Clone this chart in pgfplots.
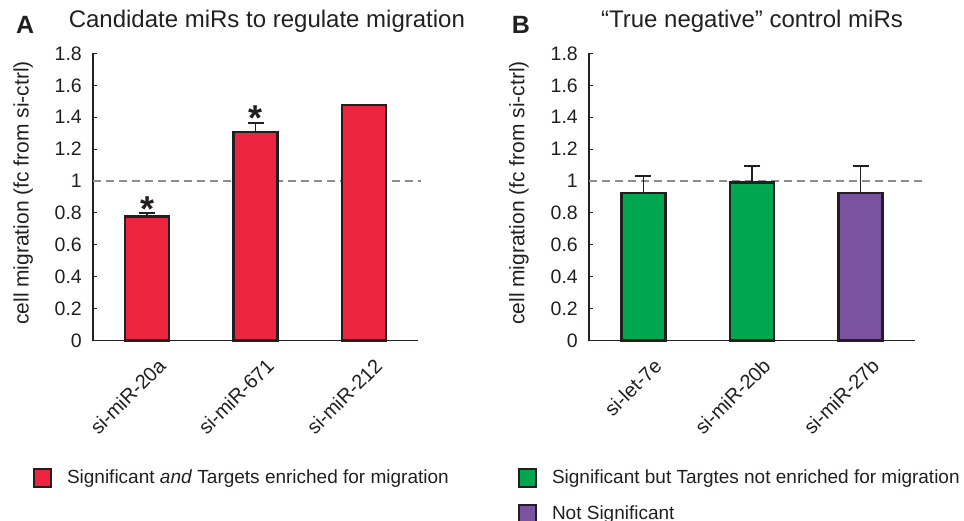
\documentclass[border=0pt]{standalone}
\usepackage{pgfplots}
\pgfplotsset{compat=1.18}
\usepackage{fontspec}
\setmainfont{Liberation Sans}
\definecolor{barred}{RGB}{236,38,64}
\definecolor{bargreen}{RGB}{0,166,80}
\definecolor{barpurple}{RGB}{122,82,160}
\definecolor{edge}{RGB}{35,31,32}
\definecolor{dashgray}{RGB}{140,140,140}

\pgfplotsset{
  mystyle/.style={
    scale only axis, width=325pt, height=287pt,
    ymin=0, ymax=1.8, xmin=-0.5, xmax=2.5,
    axis x line*=bottom, axis y line*=left,
    axis line style={line width=1.3pt, draw=edge, -},
    ytick={0,0.2,0.4,0.6,0.8,1,1.2,1.4,1.6,1.8},
    /pgf/number format/assume math mode=true,
    /pgf/number format/fixed,
    ytick style={line width=1pt, draw=edge},
    tick align=inside, major tick length=4pt,
    xtick={0,1,2},
    xtick style={draw=none},
    yticklabel style={font=\fontsize{19.5}{22}\selectfont, inner sep=0pt, xshift=-11pt, text=edge},
    xticklabel style={font=\fontsize{20}{22}\selectfont, text=edge, inner sep=0pt, rotate=45, anchor=east, xshift=-2pt, yshift=-23pt},
    ylabel={cell migration (fc from si-ctrl)},
    ylabel style={font=\fontsize{21}{24}\selectfont, text=edge, at={(axis description cs:-0.215,0.514)}, anchor=center},
    title style={font=\fontsize{24}{28}\selectfont, text=edge, anchor=base},
    clip=false,
    ybar, bar width=44pt,
    error bars/y dir=plus, error bars/y explicit,
    error bars/error bar style={line width=1.6pt, draw=edge},
    error bars/error mark options={rotate=90, mark size=8pt, line width=1.6pt, draw=edge},
    legend image code/.code={\draw[#1, line width=2pt, draw=edge] (0pt,-9pt) rectangle (17pt,9pt); \path[draw=none, fill=none] (0pt,0pt) -- (33pt,0pt);},
    legend cell align=left,
    legend style={draw=none, fill=none, inner sep=0pt, outer sep=0pt, column sep=0pt, row sep=16pt,
      font=\fontsize{19}{22}\selectfont, text=edge, nodes={inner sep=0pt}, anchor=north west},
  }
}

\begin{document}
\begin{tikzpicture}
\begin{axis}[mystyle, at={(93pt,-340.5pt)}, anchor=south west,
  xticklabels={si-miR-20a, si-miR-671, si-miR-212},
  title={Candidate miRs to regulate migration},
  title style={at={(axis description cs:0.535,1.068)}},
  legend style={at={(axis description cs:-0.1846,-0.4425)}}]
\addplot[forget plot, sharp plot, dashed, dash pattern=on 8pt off 5pt, line width=2.2pt, draw=dashgray, error bars/y dir=none] coordinates {(-0.5,1) (2.53,1)};
\addplot[fill=barred, draw=edge, line width=2.4pt, bar shift=0pt]
  table[x=x, y=y, y error plus=e] {
x y e
0 0.778 0.022
1 1.309 0.055
2 1.478 0
};
\addlegendentry{Significant \textit{and} Targets enriched for migration}
\node[anchor=base, font=\bfseries\fontsize{36}{36}\selectfont, text=edge, inner sep=0pt] at (axis cs:0,0.747) {*};
\node[anchor=base, font=\bfseries\fontsize{36}{36}\selectfont, text=edge, inner sep=0pt] at (axis cs:1,1.317) {*};
\node[anchor=base, font=\bfseries\fontsize{25}{28}\selectfont, text=edge] at (axis description cs:-0.209,1.068) {A};
\end{axis}

\begin{axis}[mystyle, at={(589pt,-340.5pt)}, anchor=south west, width=326pt,
  xticklabels={si-let-7e, si-miR-20b, si-miR-27b},
  title={“True negative” control miRs},
  title style={at={(axis description cs:0.5,1.068)}},
  legend style={at={(axis description cs:-0.2178,-0.4425)}}]
\addplot[forget plot, sharp plot, dashed, dash pattern=on 8pt off 5pt, line width=2.2pt, draw=dashgray, error bars/y dir=none] coordinates {(-0.5,1) (2.61,1)};
\addplot[fill=bargreen, draw=edge, line width=2.4pt, bar shift=0pt]
  table[x=x, y=y, y error plus=e] {
x y e
0 0.924 0.109
1 0.990 0.103
};
\addlegendentry{Significant but Targtes not enriched for migration}
\addplot[fill=barpurple, draw=edge, line width=2.4pt, bar shift=0pt]
  table[x=x, y=y, y error plus=e] {
x y e
2 0.924 0.169
};
\addlegendentry{Not Significant}
\node[anchor=base, font=\bfseries\fontsize{25}{28}\selectfont, text=edge] at (axis description cs:-0.2086,1.068) {B};
\end{axis}
\pgfresetboundingbox
\useasboundingbox (0pt,0pt) rectangle (964pt,-521pt);
\end{tikzpicture}
\end{document}
